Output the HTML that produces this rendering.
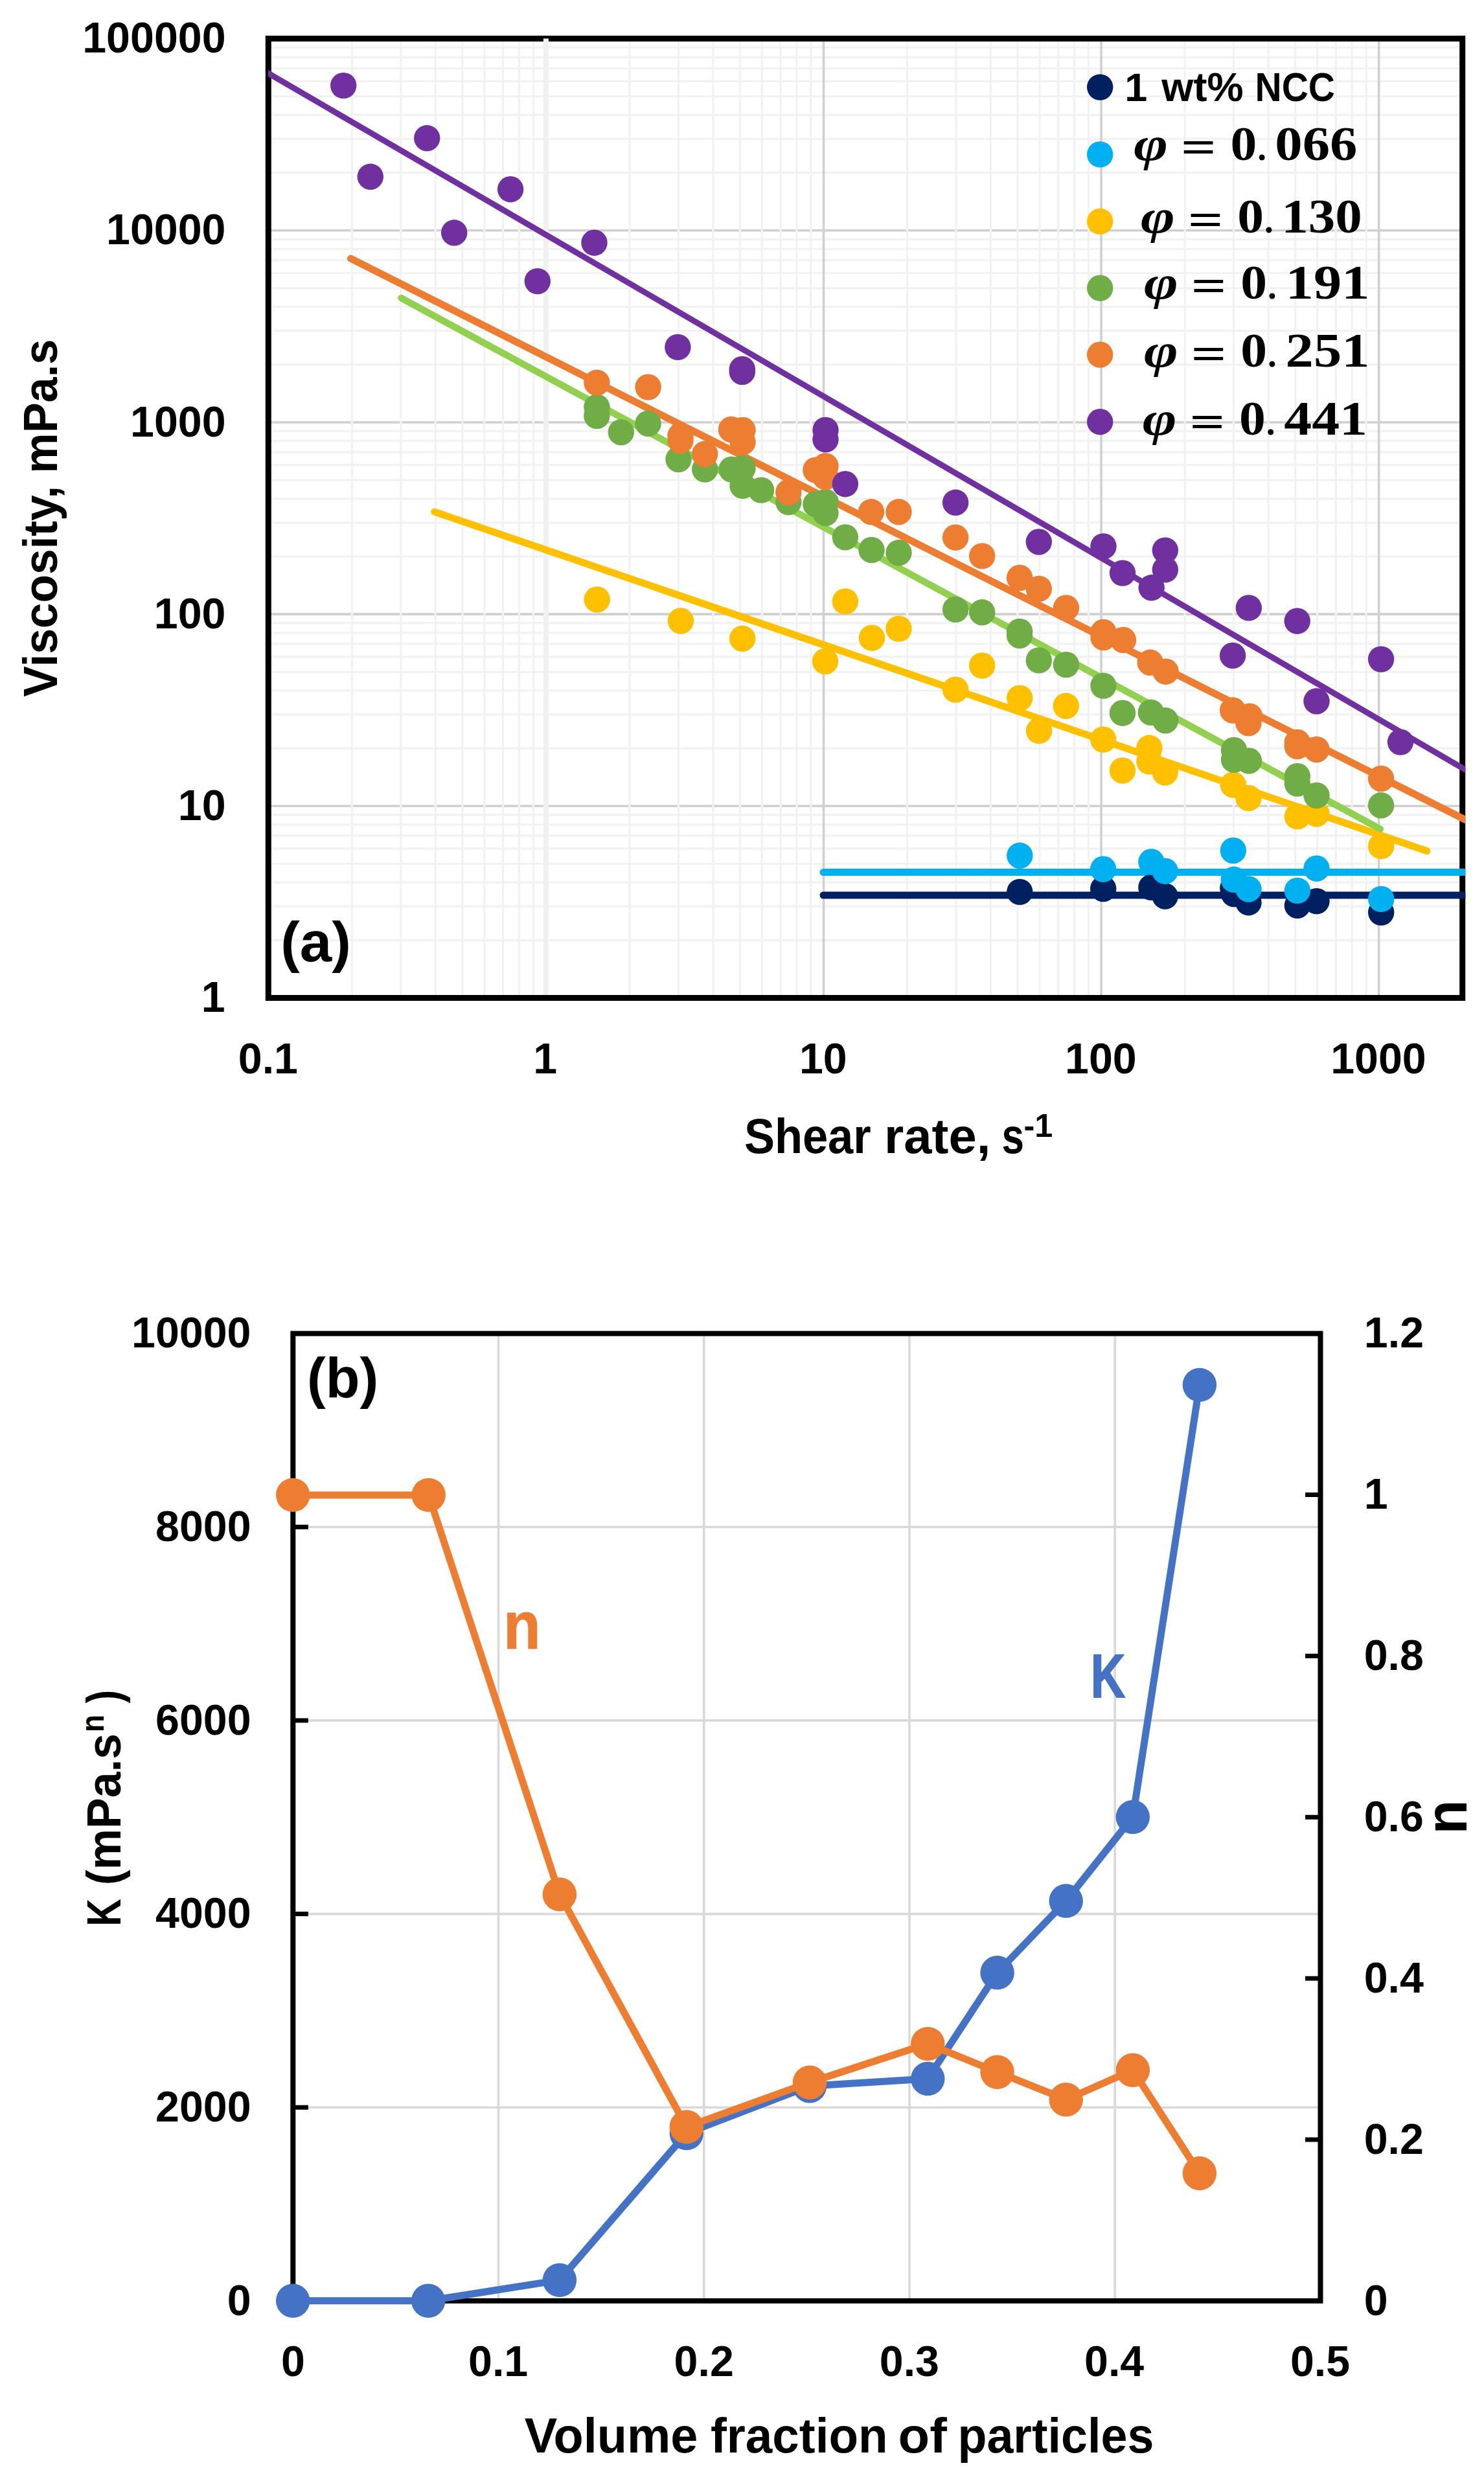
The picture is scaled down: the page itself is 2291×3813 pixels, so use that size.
<!DOCTYPE html>
<html><head><meta charset="utf-8"><title>Viscosity and power-law parameters</title>
<style>html,body{margin:0;padding:0;background:#fff}svg{display:block}</style></head>
<body>
<svg width="2291" height="3813" viewBox="0 0 2291 3813">
<rect width="2291" height="3813" fill="#fff"/>
<g fill="none">
<line x1="414.3" x2="2257.7" y1="1451.34" y2="1451.34" stroke="#f2f2f2" stroke-width="3.2"/>
<line x1="414.3" x2="2257.7" y1="1399.19" y2="1399.19" stroke="#f2f2f2" stroke-width="3.2"/>
<line x1="414.3" x2="2257.7" y1="1362.18" y2="1362.18" stroke="#f2f2f2" stroke-width="3.2"/>
<line x1="414.3" x2="2257.7" y1="1333.48" y2="1333.48" stroke="#f2f2f2" stroke-width="3.2"/>
<line x1="414.3" x2="2257.7" y1="1310.03" y2="1310.03" stroke="#f2f2f2" stroke-width="3.2"/>
<line x1="414.3" x2="2257.7" y1="1290.20" y2="1290.20" stroke="#f2f2f2" stroke-width="3.2"/>
<line x1="414.3" x2="2257.7" y1="1273.02" y2="1273.02" stroke="#f2f2f2" stroke-width="3.2"/>
<line x1="414.3" x2="2257.7" y1="1257.87" y2="1257.87" stroke="#f2f2f2" stroke-width="3.2"/>
<line x1="414.3" x2="2257.7" y1="1155.16" y2="1155.16" stroke="#f2f2f2" stroke-width="3.2"/>
<line x1="414.3" x2="2257.7" y1="1103.01" y2="1103.01" stroke="#f2f2f2" stroke-width="3.2"/>
<line x1="414.3" x2="2257.7" y1="1066.00" y2="1066.00" stroke="#f2f2f2" stroke-width="3.2"/>
<line x1="414.3" x2="2257.7" y1="1037.30" y2="1037.30" stroke="#f2f2f2" stroke-width="3.2"/>
<line x1="414.3" x2="2257.7" y1="1013.85" y2="1013.85" stroke="#f2f2f2" stroke-width="3.2"/>
<line x1="414.3" x2="2257.7" y1="994.02" y2="994.02" stroke="#f2f2f2" stroke-width="3.2"/>
<line x1="414.3" x2="2257.7" y1="976.84" y2="976.84" stroke="#f2f2f2" stroke-width="3.2"/>
<line x1="414.3" x2="2257.7" y1="961.69" y2="961.69" stroke="#f2f2f2" stroke-width="3.2"/>
<line x1="414.3" x2="2257.7" y1="858.98" y2="858.98" stroke="#f2f2f2" stroke-width="3.2"/>
<line x1="414.3" x2="2257.7" y1="806.83" y2="806.83" stroke="#f2f2f2" stroke-width="3.2"/>
<line x1="414.3" x2="2257.7" y1="769.82" y2="769.82" stroke="#f2f2f2" stroke-width="3.2"/>
<line x1="414.3" x2="2257.7" y1="741.12" y2="741.12" stroke="#f2f2f2" stroke-width="3.2"/>
<line x1="414.3" x2="2257.7" y1="717.67" y2="717.67" stroke="#f2f2f2" stroke-width="3.2"/>
<line x1="414.3" x2="2257.7" y1="697.84" y2="697.84" stroke="#f2f2f2" stroke-width="3.2"/>
<line x1="414.3" x2="2257.7" y1="680.66" y2="680.66" stroke="#f2f2f2" stroke-width="3.2"/>
<line x1="414.3" x2="2257.7" y1="665.51" y2="665.51" stroke="#f2f2f2" stroke-width="3.2"/>
<line x1="414.3" x2="2257.7" y1="562.80" y2="562.80" stroke="#f2f2f2" stroke-width="3.2"/>
<line x1="414.3" x2="2257.7" y1="510.65" y2="510.65" stroke="#f2f2f2" stroke-width="3.2"/>
<line x1="414.3" x2="2257.7" y1="473.64" y2="473.64" stroke="#f2f2f2" stroke-width="3.2"/>
<line x1="414.3" x2="2257.7" y1="444.94" y2="444.94" stroke="#f2f2f2" stroke-width="3.2"/>
<line x1="414.3" x2="2257.7" y1="421.49" y2="421.49" stroke="#f2f2f2" stroke-width="3.2"/>
<line x1="414.3" x2="2257.7" y1="401.66" y2="401.66" stroke="#f2f2f2" stroke-width="3.2"/>
<line x1="414.3" x2="2257.7" y1="384.48" y2="384.48" stroke="#f2f2f2" stroke-width="3.2"/>
<line x1="414.3" x2="2257.7" y1="369.33" y2="369.33" stroke="#f2f2f2" stroke-width="3.2"/>
<line x1="414.3" x2="2257.7" y1="266.62" y2="266.62" stroke="#f2f2f2" stroke-width="3.2"/>
<line x1="414.3" x2="2257.7" y1="214.47" y2="214.47" stroke="#f2f2f2" stroke-width="3.2"/>
<line x1="414.3" x2="2257.7" y1="177.46" y2="177.46" stroke="#f2f2f2" stroke-width="3.2"/>
<line x1="414.3" x2="2257.7" y1="148.76" y2="148.76" stroke="#f2f2f2" stroke-width="3.2"/>
<line x1="414.3" x2="2257.7" y1="125.31" y2="125.31" stroke="#f2f2f2" stroke-width="3.2"/>
<line x1="414.3" x2="2257.7" y1="105.48" y2="105.48" stroke="#f2f2f2" stroke-width="3.2"/>
<line x1="414.3" x2="2257.7" y1="88.30" y2="88.30" stroke="#f2f2f2" stroke-width="3.2"/>
<line x1="414.3" x2="2257.7" y1="73.15" y2="73.15" stroke="#f2f2f2" stroke-width="3.2"/>
<line x1="414.3" x2="2257.7" y1="1244.32" y2="1244.32" stroke="#d0d0d0" stroke-width="3.6"/>
<line x1="414.3" x2="2257.7" y1="948.14" y2="948.14" stroke="#d0d0d0" stroke-width="3.6"/>
<line x1="414.3" x2="2257.7" y1="651.96" y2="651.96" stroke="#d0d0d0" stroke-width="3.6"/>
<line x1="414.3" x2="2257.7" y1="355.78" y2="355.78" stroke="#d0d0d0" stroke-width="3.6"/>
<line y1="59.6" y2="1540.5" x1="543.32" x2="543.32" stroke="#f2f2f2" stroke-width="3.2"/>
<line y1="59.6" y2="1540.5" x1="618.79" x2="618.79" stroke="#f2f2f2" stroke-width="3.2"/>
<line y1="59.6" y2="1540.5" x1="672.34" x2="672.34" stroke="#f2f2f2" stroke-width="3.2"/>
<line y1="59.6" y2="1540.5" x1="713.88" x2="713.88" stroke="#f2f2f2" stroke-width="3.2"/>
<line y1="59.6" y2="1540.5" x1="747.81" x2="747.81" stroke="#f2f2f2" stroke-width="3.2"/>
<line y1="59.6" y2="1540.5" x1="776.50" x2="776.50" stroke="#f2f2f2" stroke-width="3.2"/>
<line y1="59.6" y2="1540.5" x1="801.36" x2="801.36" stroke="#f2f2f2" stroke-width="3.2"/>
<line y1="59.6" y2="1540.5" x1="823.28" x2="823.28" stroke="#f2f2f2" stroke-width="3.2"/>
<line y1="59.6" y2="1540.5" x1="971.91" x2="971.91" stroke="#f2f2f2" stroke-width="3.2"/>
<line y1="59.6" y2="1540.5" x1="1047.39" x2="1047.39" stroke="#f2f2f2" stroke-width="3.2"/>
<line y1="59.6" y2="1540.5" x1="1100.93" x2="1100.93" stroke="#f2f2f2" stroke-width="3.2"/>
<line y1="59.6" y2="1540.5" x1="1142.47" x2="1142.47" stroke="#f2f2f2" stroke-width="3.2"/>
<line y1="59.6" y2="1540.5" x1="1176.41" x2="1176.41" stroke="#f2f2f2" stroke-width="3.2"/>
<line y1="59.6" y2="1540.5" x1="1205.10" x2="1205.10" stroke="#f2f2f2" stroke-width="3.2"/>
<line y1="59.6" y2="1540.5" x1="1229.95" x2="1229.95" stroke="#f2f2f2" stroke-width="3.2"/>
<line y1="59.6" y2="1540.5" x1="1251.88" x2="1251.88" stroke="#f2f2f2" stroke-width="3.2"/>
<line y1="59.6" y2="1540.5" x1="1400.51" x2="1400.51" stroke="#f2f2f2" stroke-width="3.2"/>
<line y1="59.6" y2="1540.5" x1="1475.98" x2="1475.98" stroke="#f2f2f2" stroke-width="3.2"/>
<line y1="59.6" y2="1540.5" x1="1529.53" x2="1529.53" stroke="#f2f2f2" stroke-width="3.2"/>
<line y1="59.6" y2="1540.5" x1="1571.07" x2="1571.07" stroke="#f2f2f2" stroke-width="3.2"/>
<line y1="59.6" y2="1540.5" x1="1605.00" x2="1605.00" stroke="#f2f2f2" stroke-width="3.2"/>
<line y1="59.6" y2="1540.5" x1="1633.69" x2="1633.69" stroke="#f2f2f2" stroke-width="3.2"/>
<line y1="59.6" y2="1540.5" x1="1658.55" x2="1658.55" stroke="#f2f2f2" stroke-width="3.2"/>
<line y1="59.6" y2="1540.5" x1="1680.47" x2="1680.47" stroke="#f2f2f2" stroke-width="3.2"/>
<line y1="59.6" y2="1540.5" x1="1829.10" x2="1829.10" stroke="#f2f2f2" stroke-width="3.2"/>
<line y1="59.6" y2="1540.5" x1="1904.58" x2="1904.58" stroke="#f2f2f2" stroke-width="3.2"/>
<line y1="59.6" y2="1540.5" x1="1958.12" x2="1958.12" stroke="#f2f2f2" stroke-width="3.2"/>
<line y1="59.6" y2="1540.5" x1="1999.66" x2="1999.66" stroke="#f2f2f2" stroke-width="3.2"/>
<line y1="59.6" y2="1540.5" x1="2033.60" x2="2033.60" stroke="#f2f2f2" stroke-width="3.2"/>
<line y1="59.6" y2="1540.5" x1="2062.29" x2="2062.29" stroke="#f2f2f2" stroke-width="3.2"/>
<line y1="59.6" y2="1540.5" x1="2087.14" x2="2087.14" stroke="#f2f2f2" stroke-width="3.2"/>
<line y1="59.6" y2="1540.5" x1="2109.07" x2="2109.07" stroke="#f2f2f2" stroke-width="3.2"/>
<line y1="59.6" y2="1540.5" x1="1271.49" x2="1271.49" stroke="#d0d0d0" stroke-width="3.6"/>
<line y1="59.6" y2="1540.5" x1="1700.09" x2="1700.09" stroke="#d0d0d0" stroke-width="3.6"/>
<line y1="59.6" y2="1540.5" x1="2128.68" x2="2128.68" stroke="#d0d0d0" stroke-width="3.6"/>
<rect x="414.3" y="59.6" width="1843.3999999999999" height="1480.9" stroke="#000" stroke-width="9"/>
<line y1="59.6" y2="1536.0" x1="842.90" x2="842.90" stroke="#f1f1f1" stroke-width="8"/>
</g>
<clipPath id="clipA"><rect x="414" y="0" width="1848.4" height="1700"/></clipPath>
<g clip-path="url(#clipA)">
<line x1="1271" y1="1382.0" x2="2275" y2="1382.0" stroke="#002060" stroke-width="11" stroke-linecap="round"/>
<line x1="1271" y1="1346.6" x2="2275" y2="1346.6" stroke="#00B0F0" stroke-width="11" stroke-linecap="round"/>
<line x1="670.8" y1="790.1" x2="2203" y2="1313.8" stroke="#FFC000" stroke-width="11" stroke-linecap="round"/>
<line x1="619.5" y1="460.1" x2="2130.9" y2="1279.8" stroke="#92D050" stroke-width="10.5" stroke-linecap="round"/>
<line x1="541.5" y1="399.1" x2="2280" y2="1274.52" stroke="#ED7D31" stroke-width="11" stroke-linecap="round"/>
<line x1="396.4" y1="102.76" x2="2280" y2="1198.58" stroke="#7030A0" stroke-width="9" stroke-linecap="round"/>
</g>
<g fill="#002060">
<circle cx="1574.3" cy="1376.9" r="20.2"/>
<circle cx="1703.2" cy="1372" r="20.2"/>
<circle cx="1777.4" cy="1369.9" r="20.2"/>
<circle cx="1798.7" cy="1383.5" r="20.2"/>
<circle cx="1903.3" cy="1371" r="20.2"/>
<circle cx="1905" cy="1380" r="20.2"/>
<circle cx="1927.5" cy="1393.2" r="20.2"/>
<circle cx="2002.9" cy="1397.8" r="20.2"/>
<circle cx="2032.5" cy="1391.1" r="20.2"/>
<circle cx="2132.2" cy="1408.6" r="20.2"/>
</g>
<g fill="#00B0F0">
<circle cx="1574.3" cy="1320.8" r="20.2"/>
<circle cx="1703.2" cy="1341.7" r="20.2"/>
<circle cx="1777.4" cy="1330.5" r="20.2"/>
<circle cx="1798.7" cy="1344.7" r="20.2"/>
<circle cx="1903.8" cy="1313" r="20.2"/>
<circle cx="1904.8" cy="1357.8" r="20.2"/>
<circle cx="1927.5" cy="1372.5" r="20.2"/>
<circle cx="2002.9" cy="1374.9" r="20.2"/>
<circle cx="2032.5" cy="1340.7" r="20.2"/>
<circle cx="2132.2" cy="1387.9" r="20.2"/>
</g>
<g fill="#FFC000">
<circle cx="921.7" cy="925.5" r="20.2"/>
<circle cx="1050.9" cy="958.5" r="20.2"/>
<circle cx="1146.2" cy="985.8" r="20.2"/>
<circle cx="1274" cy="1021" r="20.2"/>
<circle cx="1304.9" cy="928.4" r="20.2"/>
<circle cx="1346" cy="984.7" r="20.2"/>
<circle cx="1387.5" cy="970.6" r="20.2"/>
<circle cx="1475.1" cy="1064.6" r="20.2"/>
<circle cx="1516.2" cy="1027.5" r="20.2"/>
<circle cx="1574.2" cy="1077.6" r="20.2"/>
<circle cx="1604" cy="1128.2" r="20.2"/>
<circle cx="1645.7" cy="1089.8" r="20.2"/>
<circle cx="1703.2" cy="1141.6" r="20.2"/>
<circle cx="1732.9" cy="1189.5" r="20.2"/>
<circle cx="1774.4" cy="1154.8" r="20.2"/>
<circle cx="1774.4" cy="1175.6" r="20.2"/>
<circle cx="1798.7" cy="1192.5" r="20.2"/>
<circle cx="1903.8" cy="1211.5" r="20.2"/>
<circle cx="1927.5" cy="1232" r="20.2"/>
<circle cx="2002.9" cy="1260.4" r="20.2"/>
<circle cx="2032.5" cy="1256.3" r="20.2"/>
<circle cx="2132.2" cy="1306.2" r="20.2"/>
</g>
<g fill="#70AD47">
<circle cx="921.4" cy="628.6" r="20.2"/>
<circle cx="921.4" cy="642" r="20.2"/>
<circle cx="958.8" cy="667.3" r="20.2"/>
<circle cx="1000.6" cy="653.8" r="20.2"/>
<circle cx="1047.5" cy="709" r="20.2"/>
<circle cx="1088.2" cy="724.6" r="20.2"/>
<circle cx="1129.6" cy="724.6" r="20.2"/>
<circle cx="1146.5" cy="722.9" r="20.2"/>
<circle cx="1146.5" cy="749.9" r="20.2"/>
<circle cx="1175.1" cy="756.6" r="20.2"/>
<circle cx="1217.3" cy="775.1" r="20.2"/>
<circle cx="1259.4" cy="778.5" r="20.2"/>
<circle cx="1274.5" cy="775" r="20.2"/>
<circle cx="1274.5" cy="792" r="20.2"/>
<circle cx="1304.9" cy="829.4" r="20.2"/>
<circle cx="1345.5" cy="849" r="20.2"/>
<circle cx="1387.5" cy="853.3" r="20.2"/>
<circle cx="1475.1" cy="940.9" r="20.2"/>
<circle cx="1516.2" cy="945.3" r="20.2"/>
<circle cx="1574.1" cy="975" r="20.2"/>
<circle cx="1574.1" cy="981" r="20.2"/>
<circle cx="1603.8" cy="1019.4" r="20.2"/>
<circle cx="1645.9" cy="1026.1" r="20.2"/>
<circle cx="1703.4" cy="1058.6" r="20.2"/>
<circle cx="1733" cy="1100.7" r="20.2"/>
<circle cx="1776.8" cy="1099.8" r="20.2"/>
<circle cx="1799.1" cy="1112.3" r="20.2"/>
<circle cx="1905" cy="1158" r="20.2"/>
<circle cx="1905" cy="1172.8" r="20.2"/>
<circle cx="1928" cy="1174.5" r="20.2"/>
<circle cx="2002.8" cy="1198.2" r="20.2"/>
<circle cx="2002.8" cy="1209.6" r="20.2"/>
<circle cx="2032.5" cy="1228" r="20.2"/>
<circle cx="2132.1" cy="1243.3" r="20.2"/>
</g>
<g fill="#ED7D31">
<circle cx="921.4" cy="590.8" r="20.2"/>
<circle cx="1000.6" cy="597.6" r="20.2"/>
<circle cx="1050.5" cy="672.5" r="20.2"/>
<circle cx="1050.5" cy="680" r="20.2"/>
<circle cx="1088.2" cy="701" r="20.2"/>
<circle cx="1129" cy="663" r="20.2"/>
<circle cx="1146.5" cy="664" r="20.2"/>
<circle cx="1146.5" cy="682.5" r="20.2"/>
<circle cx="1217.3" cy="760" r="20.2"/>
<circle cx="1259.4" cy="725.6" r="20.2"/>
<circle cx="1274.5" cy="719.5" r="20.2"/>
<circle cx="1274.5" cy="736.4" r="20.2"/>
<circle cx="1345" cy="790.3" r="20.2"/>
<circle cx="1387.5" cy="790.3" r="20.2"/>
<circle cx="1475.1" cy="829.7" r="20.2"/>
<circle cx="1516.2" cy="858.4" r="20.2"/>
<circle cx="1574.1" cy="892" r="20.2"/>
<circle cx="1603.8" cy="908.9" r="20.2"/>
<circle cx="1645.9" cy="938.5" r="20.2"/>
<circle cx="1703.5" cy="976" r="20.2"/>
<circle cx="1703.5" cy="984" r="20.2"/>
<circle cx="1734" cy="988" r="20.2"/>
<circle cx="1775.7" cy="1022.8" r="20.2"/>
<circle cx="1799.6" cy="1036.7" r="20.2"/>
<circle cx="1903.1" cy="1096.5" r="20.2"/>
<circle cx="1929" cy="1105.6" r="20.2"/>
<circle cx="1927.4" cy="1116.3" r="20.2"/>
<circle cx="2002.8" cy="1146" r="20.2"/>
<circle cx="2002.8" cy="1152" r="20.2"/>
<circle cx="2032.5" cy="1157" r="20.2"/>
<circle cx="2132.1" cy="1202" r="20.2"/>
</g>
<g fill="#7030A0">
<circle cx="530.2" cy="132.1" r="20.2"/>
<circle cx="571.8" cy="272.8" r="20.2"/>
<circle cx="659.2" cy="213.3" r="20.2"/>
<circle cx="701.2" cy="359.3" r="20.2"/>
<circle cx="788.1" cy="292.2" r="20.2"/>
<circle cx="829.8" cy="434.1" r="20.2"/>
<circle cx="917.5" cy="374.7" r="20.2"/>
<circle cx="1046.4" cy="535.9" r="20.2"/>
<circle cx="1145.8" cy="570" r="20.2"/>
<circle cx="1145.8" cy="574" r="20.2"/>
<circle cx="1274.5" cy="663.9" r="20.2"/>
<circle cx="1274.5" cy="678.4" r="20.2"/>
<circle cx="1304.9" cy="747.2" r="20.2"/>
<circle cx="1475.1" cy="775.8" r="20.2"/>
<circle cx="1603.8" cy="836.5" r="20.2"/>
<circle cx="1703.5" cy="843.4" r="20.2"/>
<circle cx="1733" cy="884.6" r="20.2"/>
<circle cx="1777.7" cy="907.3" r="20.2"/>
<circle cx="1798.8" cy="849.6" r="20.2"/>
<circle cx="1798.8" cy="879.4" r="20.2"/>
<circle cx="1927.8" cy="938.4" r="20.2"/>
<circle cx="1903.1" cy="1012" r="20.2"/>
<circle cx="2002.7" cy="958.7" r="20.2"/>
<circle cx="2032.5" cy="1082.5" r="20.2"/>
<circle cx="2132.1" cy="1017.6" r="20.2"/>
<circle cx="2162" cy="1145.6" r="20.2"/>
</g>
<circle cx="1698.2" cy="134.6" r="20.2" fill="#002060"/>
<circle cx="1698.2" cy="238.4" r="20.2" fill="#00B0F0"/>
<circle cx="1698.2" cy="341.8" r="20.2" fill="#FFC000"/>
<circle cx="1698.2" cy="444.7" r="20.2" fill="#70AD47"/>
<circle cx="1698.2" cy="547.5" r="20.2" fill="#ED7D31"/>
<circle cx="1698.2" cy="651.2" r="20.2" fill="#7030A0"/>
<text transform="translate(1736.36,155.80) scale(1.0163,1)" font-size="62" font-family="'Liberation Sans', sans-serif" font-weight="bold" fill="#000" >1</text>
<text transform="translate(1793.36,155.80) scale(1.0184,1)" font-size="62" font-family="'Liberation Sans', sans-serif" font-weight="bold" fill="#000" >wt%</text>
<text transform="translate(1937.56,155.80) scale(0.9183,1)" font-size="62" font-family="'Liberation Sans', sans-serif" font-weight="bold" fill="#000" >NCC</text>
<text transform="translate(1750.25,246.80) scale(1.2037,1)" font-size="75" font-family="'Liberation Serif', serif" font-weight="bold" font-style="italic" fill="#000" >φ</text>
<text transform="translate(1822.99,250.60) scale(1.3259,1)" font-size="72.5" font-family="'Liberation Serif', serif" font-weight="bold" fill="#000" >=</text>
<text transform="translate(1899.44,246.80) scale(1.1033,1)" font-size="74" font-family="'Liberation Serif', serif" font-weight="bold" fill="#000" >0</text>
<text transform="translate(1941.26,246.80) scale(1.0213,1)" font-size="54" font-family="'Liberation Serif', serif" font-weight="bold" fill="#000" >.</text>
<text transform="translate(1968.32,246.80) scale(1.1462,1)" font-size="74" font-family="'Liberation Serif', serif" font-weight="bold" fill="#000" >066</text>
<text transform="translate(1761.05,359.00) scale(1.2037,1)" font-size="75" font-family="'Liberation Serif', serif" font-weight="bold" font-style="italic" fill="#000" >φ</text>
<text transform="translate(1833.79,362.80) scale(1.3259,1)" font-size="72.5" font-family="'Liberation Serif', serif" font-weight="bold" fill="#000" >=</text>
<text transform="translate(1910.24,359.00) scale(1.1033,1)" font-size="74" font-family="'Liberation Serif', serif" font-weight="bold" fill="#000" >0</text>
<text transform="translate(1952.06,359.00) scale(1.0213,1)" font-size="54" font-family="'Liberation Serif', serif" font-weight="bold" fill="#000" >.</text>
<text transform="translate(1978.36,359.00) scale(1.1221,1)" font-size="74" font-family="'Liberation Serif', serif" font-weight="bold" fill="#000" >130</text>
<text transform="translate(1766.05,460.90) scale(1.2037,1)" font-size="75" font-family="'Liberation Serif', serif" font-weight="bold" font-style="italic" fill="#000" >φ</text>
<text transform="translate(1838.79,464.70) scale(1.3259,1)" font-size="72.5" font-family="'Liberation Serif', serif" font-weight="bold" fill="#000" >=</text>
<text transform="translate(1915.24,460.90) scale(1.1033,1)" font-size="74" font-family="'Liberation Serif', serif" font-weight="bold" fill="#000" >0</text>
<text transform="translate(1957.06,460.90) scale(1.0213,1)" font-size="54" font-family="'Liberation Serif', serif" font-weight="bold" fill="#000" >.</text>
<text transform="translate(1984.79,460.90) scale(1.1680,1)" font-size="74" font-family="'Liberation Serif', serif" font-weight="bold" fill="#000" >191</text>
<text transform="translate(1766.05,566.30) scale(1.2037,1)" font-size="75" font-family="'Liberation Serif', serif" font-weight="bold" font-style="italic" fill="#000" >φ</text>
<text transform="translate(1838.79,570.10) scale(1.3259,1)" font-size="72.5" font-family="'Liberation Serif', serif" font-weight="bold" fill="#000" >=</text>
<text transform="translate(1915.24,566.30) scale(1.1033,1)" font-size="74" font-family="'Liberation Serif', serif" font-weight="bold" fill="#000" >0</text>
<text transform="translate(1957.06,566.30) scale(1.0213,1)" font-size="54" font-family="'Liberation Serif', serif" font-weight="bold" fill="#000" >.</text>
<text transform="translate(1984.62,566.30) scale(1.1696,1)" font-size="74" font-family="'Liberation Serif', serif" font-weight="bold" fill="#000" >251</text>
<text transform="translate(1763.75,671.40) scale(1.2037,1)" font-size="75" font-family="'Liberation Serif', serif" font-weight="bold" font-style="italic" fill="#000" >φ</text>
<text transform="translate(1836.49,675.20) scale(1.3259,1)" font-size="72.5" font-family="'Liberation Serif', serif" font-weight="bold" fill="#000" >=</text>
<text transform="translate(1912.94,671.40) scale(1.1033,1)" font-size="74" font-family="'Liberation Serif', serif" font-weight="bold" fill="#000" >0</text>
<text transform="translate(1954.76,671.40) scale(1.0213,1)" font-size="54" font-family="'Liberation Serif', serif" font-weight="bold" fill="#000" >.</text>
<text transform="translate(1982.23,671.40) scale(1.1602,1)" font-size="74" font-family="'Liberation Serif', serif" font-weight="bold" fill="#000" >441</text>
<text transform="translate(310.81,1562.10) scale(0.9900,1)" font-size="67" font-family="'Liberation Sans', sans-serif" font-weight="bold" fill="#000" >1</text>
<text transform="translate(274.83,1265.92) scale(0.9900,1)" font-size="67" font-family="'Liberation Sans', sans-serif" font-weight="bold" fill="#000" >10</text>
<text transform="translate(237.85,969.74) scale(0.9900,1)" font-size="67" font-family="'Liberation Sans', sans-serif" font-weight="bold" fill="#000" >100</text>
<text transform="translate(201.03,673.56) scale(0.9900,1)" font-size="67" font-family="'Liberation Sans', sans-serif" font-weight="bold" fill="#000" >1000</text>
<text transform="translate(164.06,377.38) scale(0.9900,1)" font-size="67" font-family="'Liberation Sans', sans-serif" font-weight="bold" fill="#000" >10000</text>
<text transform="translate(127.24,81.20) scale(0.9900,1)" font-size="67" font-family="'Liberation Sans', sans-serif" font-weight="bold" fill="#000" >100000</text>
<text transform="translate(367.79,1657.00) scale(0.9900,1)" font-size="67" font-family="'Liberation Sans', sans-serif" font-weight="bold" fill="#000" >0.1</text>
<text transform="translate(823.33,1657.00) scale(0.9900,1)" font-size="67" font-family="'Liberation Sans', sans-serif" font-weight="bold" fill="#000" >1</text>
<text transform="translate(1233.93,1657.00) scale(0.9900,1)" font-size="67" font-family="'Liberation Sans', sans-serif" font-weight="bold" fill="#000" >10</text>
<text transform="translate(1644.04,1657.00) scale(0.9900,1)" font-size="67" font-family="'Liberation Sans', sans-serif" font-weight="bold" fill="#000" >100</text>
<text transform="translate(2054.22,1657.00) scale(0.9900,1)" font-size="67" font-family="'Liberation Sans', sans-serif" font-weight="bold" fill="#000" >1000</text>
<text transform="translate(87.80,1075.83) rotate(-90) scale(0.9561,1)" font-size="74.5" font-family="'Liberation Sans', sans-serif" font-weight="bold" fill="#000" >Viscosity,</text>
<text transform="translate(87.80,730.67) rotate(-90) scale(0.9429,1)" font-size="74.5" font-family="'Liberation Sans', sans-serif" font-weight="bold" fill="#000" >mPa.s</text>
<text transform="translate(1148.89,1780.20) scale(0.9271,1)" font-size="76" font-family="'Liberation Sans', sans-serif" font-weight="bold" fill="#000" >Shear</text>
<text transform="translate(1364.94,1780.20) scale(1.0247,1)" font-size="76" font-family="'Liberation Sans', sans-serif" font-weight="bold" fill="#000" >rate,</text>
<text transform="translate(1546.53,1780.20) scale(0.8169,1)" font-size="76" font-family="'Liberation Sans', sans-serif" font-weight="bold" fill="#000" >s</text>
<text transform="translate(1580.49,1755.30) scale(1.0073,1)" font-size="50" font-family="'Liberation Sans', sans-serif" font-weight="bold" fill="#000" >-1</text>
<text transform="translate(433.25,1484.30) scale(1.0103,1)" font-size="88" font-family="'Liberation Sans', sans-serif" font-weight="bold" fill="#000" >(a)</text>
<g fill="none">
<line x1="452.3" x2="2038.5" y1="3253.24" y2="3253.24" stroke="#d9d9d9" stroke-width="3.6"/>
<line x1="452.3" x2="2038.5" y1="2954.58" y2="2954.58" stroke="#d9d9d9" stroke-width="3.6"/>
<line x1="452.3" x2="2038.5" y1="2655.92" y2="2655.92" stroke="#d9d9d9" stroke-width="3.6"/>
<line x1="452.3" x2="2038.5" y1="2357.26" y2="2357.26" stroke="#d9d9d9" stroke-width="3.6"/>
<line y1="2058.6" y2="3551.9" x1="769.54" x2="769.54" stroke="#d9d9d9" stroke-width="3.6"/>
<line y1="2058.6" y2="3551.9" x1="1086.78" x2="1086.78" stroke="#d9d9d9" stroke-width="3.6"/>
<line y1="2058.6" y2="3551.9" x1="1404.02" x2="1404.02" stroke="#d9d9d9" stroke-width="3.6"/>
<line y1="2058.6" y2="3551.9" x1="1721.26" x2="1721.26" stroke="#d9d9d9" stroke-width="3.6"/>
<rect x="452.3" y="2058.6" width="1586.2" height="1493.3000000000002" stroke="#000" stroke-width="8"/>
<line x1="452.3" x2="475.8" y1="3253.24" y2="3253.24" stroke="#000" stroke-width="7"/>
<line x1="452.3" x2="475.8" y1="2954.58" y2="2954.58" stroke="#000" stroke-width="7"/>
<line x1="452.3" x2="475.8" y1="2655.92" y2="2655.92" stroke="#000" stroke-width="7"/>
<line x1="452.3" x2="475.8" y1="2357.26" y2="2357.26" stroke="#000" stroke-width="7"/>
<line x1="2038.5" x2="2015.0" y1="3303.02" y2="3303.02" stroke="#000" stroke-width="7"/>
<line x1="2038.5" x2="2015.0" y1="3054.13" y2="3054.13" stroke="#000" stroke-width="7"/>
<line x1="2038.5" x2="2015.0" y1="2805.25" y2="2805.25" stroke="#000" stroke-width="7"/>
<line x1="2038.5" x2="2015.0" y1="2556.37" y2="2556.37" stroke="#000" stroke-width="7"/>
<line x1="2038.5" x2="2015.0" y1="2307.48" y2="2307.48" stroke="#000" stroke-width="7"/>
</g>
<polyline points="452.2,3551.7 661.2,3551.7 863.9,3519.9 1059.8,3293.1 1250,3220.2 1432.3,3209 1539.6,3045.3 1645.7,2934.5 1748.8,2805 1851.9,2137.9" fill="none" stroke="#4472C4" stroke-width="11" stroke-linejoin="round" stroke-linecap="round"/>
<g fill="#4472C4"><circle cx="452.2" cy="3551.7" r="26.2"/><circle cx="661.2" cy="3551.7" r="26.2"/><circle cx="863.9" cy="3519.9" r="26.2"/><circle cx="1059.8" cy="3293.1" r="26.2"/><circle cx="1250" cy="3220.2" r="26.2"/><circle cx="1432.3" cy="3209" r="26.2"/><circle cx="1539.6" cy="3045.3" r="26.2"/><circle cx="1645.7" cy="2934.5" r="26.2"/><circle cx="1748.8" cy="2805" r="26.2"/><circle cx="1851.9" cy="2137.9" r="26.2"/></g>
<polyline points="452.2,2307.9 661.7,2307.9 863.9,2924.4 1059.8,3283.4 1250,3214.7 1432.3,3155.1 1539.6,3198.7 1645.7,3241.2 1748.8,3195.7 1851.9,3355" fill="none" stroke="#ED7D31" stroke-width="11" stroke-linejoin="round" stroke-linecap="round"/>
<g fill="#ED7D31"><circle cx="452.2" cy="2307.9" r="26.2"/><circle cx="661.7" cy="2307.9" r="26.2"/><circle cx="863.9" cy="2924.4" r="26.2"/><circle cx="1059.8" cy="3283.4" r="26.2"/><circle cx="1250" cy="3214.7" r="26.2"/><circle cx="1432.3" cy="3155.1" r="26.2"/><circle cx="1539.6" cy="3198.7" r="26.2"/><circle cx="1645.7" cy="3241.2" r="26.2"/><circle cx="1748.8" cy="3195.7" r="26.2"/><circle cx="1851.9" cy="3355" r="26.2"/></g>
<text transform="translate(350.64,3573.50) scale(0.9900,1)" font-size="67" font-family="'Liberation Sans', sans-serif" font-weight="bold" fill="#000" >0</text>
<text transform="translate(240.03,3274.84) scale(0.9900,1)" font-size="67" font-family="'Liberation Sans', sans-serif" font-weight="bold" fill="#000" >2000</text>
<text transform="translate(240.03,2976.18) scale(0.9900,1)" font-size="67" font-family="'Liberation Sans', sans-serif" font-weight="bold" fill="#000" >4000</text>
<text transform="translate(240.03,2677.52) scale(0.9900,1)" font-size="67" font-family="'Liberation Sans', sans-serif" font-weight="bold" fill="#000" >6000</text>
<text transform="translate(240.03,2378.86) scale(0.9900,1)" font-size="67" font-family="'Liberation Sans', sans-serif" font-weight="bold" fill="#000" >8000</text>
<text transform="translate(203.06,2080.20) scale(0.9900,1)" font-size="67" font-family="'Liberation Sans', sans-serif" font-weight="bold" fill="#000" >10000</text>
<text transform="translate(2105.65,3573.50) scale(0.9900,1)" font-size="67" font-family="'Liberation Sans', sans-serif" font-weight="bold" fill="#000" >0</text>
<text transform="translate(2105.65,3324.62) scale(0.9900,1)" font-size="67" font-family="'Liberation Sans', sans-serif" font-weight="bold" fill="#000" >0.2</text>
<text transform="translate(2105.65,3075.73) scale(0.9900,1)" font-size="67" font-family="'Liberation Sans', sans-serif" font-weight="bold" fill="#000" >0.4</text>
<text transform="translate(2105.65,2826.85) scale(0.9900,1)" font-size="67" font-family="'Liberation Sans', sans-serif" font-weight="bold" fill="#000" >0.6</text>
<text transform="translate(2105.65,2577.97) scale(0.9900,1)" font-size="67" font-family="'Liberation Sans', sans-serif" font-weight="bold" fill="#000" >0.8</text>
<text transform="translate(2105.85,2329.08) scale(0.9900,1)" font-size="67" font-family="'Liberation Sans', sans-serif" font-weight="bold" fill="#000" >1</text>
<text transform="translate(2105.85,2080.20) scale(0.9900,1)" font-size="67" font-family="'Liberation Sans', sans-serif" font-weight="bold" fill="#000" >1.2</text>
<text transform="translate(433.89,3667.80) scale(0.9900,1)" font-size="67" font-family="'Liberation Sans', sans-serif" font-weight="bold" fill="#000" >0</text>
<text transform="translate(723.03,3667.80) scale(0.9900,1)" font-size="67" font-family="'Liberation Sans', sans-serif" font-weight="bold" fill="#000" >0.1</text>
<text transform="translate(1040.60,3667.80) scale(0.9900,1)" font-size="67" font-family="'Liberation Sans', sans-serif" font-weight="bold" fill="#000" >0.2</text>
<text transform="translate(1357.75,3667.80) scale(0.9900,1)" font-size="67" font-family="'Liberation Sans', sans-serif" font-weight="bold" fill="#000" >0.3</text>
<text transform="translate(1674.00,3667.80) scale(0.9900,1)" font-size="67" font-family="'Liberation Sans', sans-serif" font-weight="bold" fill="#000" >0.4</text>
<text transform="translate(1991.99,3667.80) scale(0.9900,1)" font-size="67" font-family="'Liberation Sans', sans-serif" font-weight="bold" fill="#000" >0.5</text>
<text transform="translate(809.63,3785.50) scale(1.0028,1)" font-size="75.5" font-family="'Liberation Sans', sans-serif" font-weight="bold" fill="#000" >Volume</text>
<text transform="translate(1096.89,3785.50) scale(0.9891,1)" font-size="75.5" font-family="'Liberation Sans', sans-serif" font-weight="bold" fill="#000" >fraction</text>
<text transform="translate(1386.61,3785.50) scale(1.0552,1)" font-size="75.5" font-family="'Liberation Sans', sans-serif" font-weight="bold" fill="#000" >of</text>
<text transform="translate(1478.41,3785.50) scale(0.9757,1)" font-size="75.5" font-family="'Liberation Sans', sans-serif" font-weight="bold" fill="#000" >particles</text>
<text transform="translate(474.09,2156.80) scale(0.9805,1)" font-size="88" font-family="'Liberation Sans', sans-serif" font-weight="bold" fill="#000" >(b)</text>
<text transform="translate(777.30,2545.30) scale(0.9108,1)" font-size="103" font-family="'Liberation Sans', sans-serif" font-weight="bold" fill="#ED7D31" stroke="#ED7D31" stroke-width="1">n</text>
<text transform="translate(1683.95,2620.00) scale(0.7801,1)" font-size="94" font-family="'Liberation Sans', sans-serif" font-weight="bold" fill="#4472C4" stroke="#4472C4" stroke-width="2">K</text>
<text transform="translate(186.00,2973.69) rotate(-90) scale(0.7982,1)" font-size="74" font-family="'Liberation Sans', sans-serif" font-weight="bold" fill="#000" >K</text>
<text transform="translate(186.00,2910.17) rotate(-90) scale(0.9653,1)" font-size="74" font-family="'Liberation Sans', sans-serif" font-weight="bold" fill="#000" >(mPa.s</text>
<text transform="translate(160.00,2673.88) rotate(-90) scale(0.8866,1)" font-size="50" font-family="'Liberation Sans', sans-serif" font-weight="bold" fill="#000" >n</text>
<text transform="translate(186.00,2629.15) rotate(-90) scale(0.8301,1)" font-size="74" font-family="'Liberation Sans', sans-serif" font-weight="bold" fill="#000" >)</text>
<text transform="translate(2263.90,2831.42) rotate(-90) scale(0.9599,1)" font-size="90" font-family="'Liberation Sans', sans-serif" font-weight="bold" fill="#000" >n</text>
</svg>
</body></html>
